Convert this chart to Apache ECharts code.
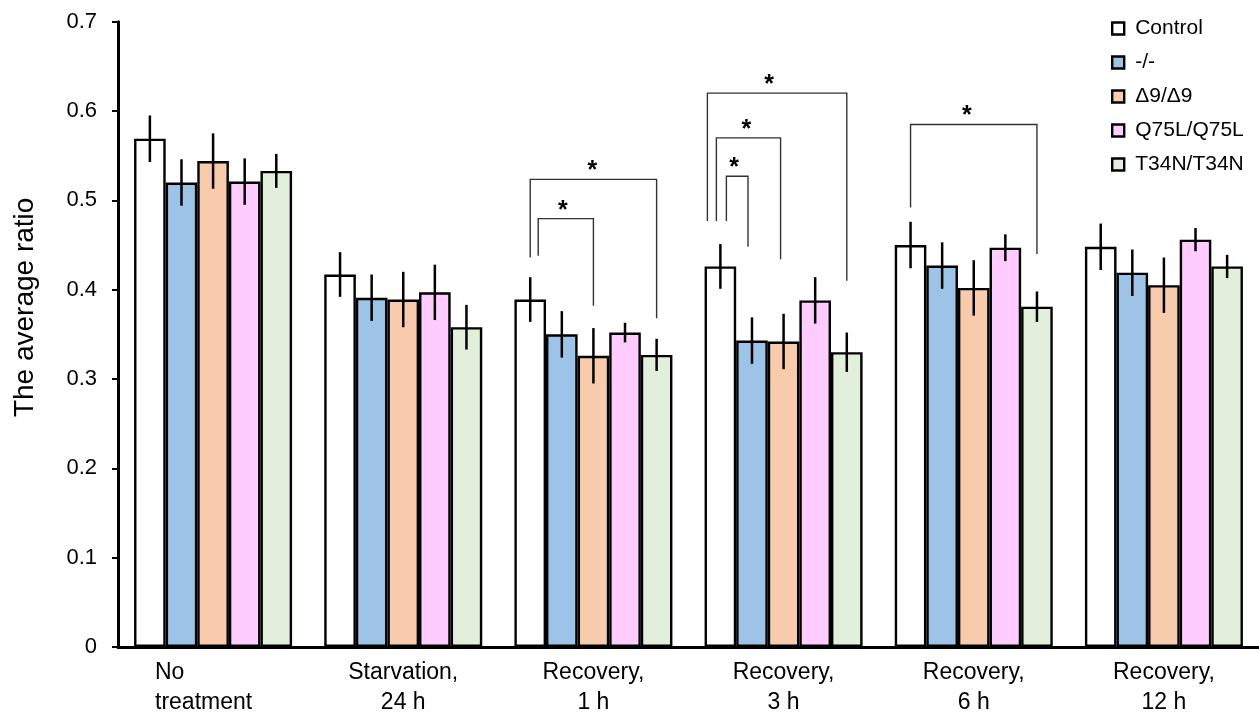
<!DOCTYPE html>
<html>
<head>
<meta charset="utf-8">
<script src="https://cdn.jsdelivr.net/npm/echarts@6/dist/echarts.min.js"></script>
<style>
  html, body { margin: 0; padding: 0; background: #fff; }
  #chart { width: 1259px; height: 718px; }
</style>
</head>
<body>
<div id="chart"></div>
<script>
// Treatment groups along the x axis
const categories = ['No\ntreatment', 'Starvation,\n24 h', 'Recovery,\n1 h', 'Recovery,\n3 h', 'Recovery,\n6 h', 'Recovery,\n12 h'];

// Genotypes (one bar per genotype in each group)
const genotypes = ['Control', '-/-', 'Δ9/Δ9', 'Q75L/Q75L', 'T34N/T34N'];

// Mean ratios
const control = [0.569, 0.417, 0.389, 0.426, 0.450, 0.448];
const knockout = [0.520, 0.391, 0.350, 0.343, 0.427, 0.419];
const delta9 = [0.544, 0.389, 0.326, 0.342, 0.402, 0.405];
const q75l = [0.521, 0.397, 0.352, 0.388, 0.447, 0.456];
const t34n = [0.533, 0.358, 0.327, 0.330, 0.381, 0.426];

// Error (± half-length of each error bar)
const controlErr = [0.026, 0.025, 0.025, 0.025, 0.026, 0.026];
const knockoutErr = [0.026, 0.026, 0.026, 0.026, 0.026, 0.026];
const delta9Err = [0.031, 0.031, 0.031, 0.031, 0.031, 0.031];
const q75lErr = [0.026, 0.031, 0.011, 0.026, 0.015, 0.013];
const t34nErr = [0.019, 0.025, 0.018, 0.022, 0.017, 0.013];

// Y axis ticks
const yTicks = [0, 0.1, 0.2, 0.3, 0.4, 0.5, 0.6, 0.7];

// Significance brackets: [group, fromBar, toBar, bracket height, left leg end, right leg end]
const brackets = [
  [2, 0, 4, 0.5235, 0.436, 0.368],
  [2, 0, 2, 0.4795, 0.438, 0.382],
  [3, 0, 4, 0.620, 0.477, 0.410],
  [3, 0, 2, 0.570, 0.477, 0.434],
  [3, 0, 1, 0.527, 0.477, 0.448],
  [4, 0, 4, 0.585, 0.492, 0.440]
];

// ---- styling ----
const FONT = "'Liberation Sans', Arial, Helvetica, sans-serif";
const BAR_W = 31.6;
const colors = ['#ffffff', '#9dc3e6', '#f8cbad', '#ffccff', '#e2efda'];
// small horizontal nudges for nested bracket legs and stars: [left leg, right leg, star]
const bracketNudge = [[0, 0, -1], [8, 0, -3], [-13, 0, -8], [-4, -3, -2], [6, -4, -3], [0, 0, -7]];

const means = [control, knockout, delta9, q75l, t34n];
const errs = [controlErr, knockoutErr, delta9Err, q75lErr, t34nErr];

const errData = [];
means.forEach((arr, s) => {
  arr.forEach((v, c) => errData.push([c, s, v, errs[s][c]]));
});

const bracketData = brackets.map(b => b.slice());

const chart = echarts.init(document.getElementById('chart'), null, { renderer: 'canvas' });

const barSeries = genotypes.map((name, s) => ({
  name: name,
  type: 'bar',
  data: means[s],
  barWidth: BAR_W,
  barGap: '0%',
  itemStyle: { color: colors[s], borderColor: '#000', borderWidth: 2.4 },
  emphasis: { disabled: true },
  z: 2
}));

const errorSeries = {
  type: 'custom',
  name: 'error',
  data: errData,
  encode: { x: 0, y: 2 },
  z: 5,
  silent: true,
  renderItem: function (params, api) {
    const c = api.value(0), s = api.value(1), m = api.value(2), e = api.value(3);
    const top = api.coord([c, m + e]);
    const bot = api.coord([c, m - e]);
    const x = top[0] + (s - (genotypes.length - 1) / 2) * BAR_W;
    return {
      type: 'line',
      shape: { x1: x, y1: top[1], x2: x, y2: bot[1] },
      style: { stroke: '#000', lineWidth: 2.5 }
    };
  }
};

const bracketSeries = {
  type: 'custom',
  name: 'brackets',
  data: bracketData,
  encode: { x: 0, y: 3 },
  z: 6,
  silent: true,
  renderItem: function (params, api) {
    const c = api.value(0), from = api.value(1), to = api.value(2);
    const topP = api.coord([c, api.value(3)]);
    const yl = api.coord([c, api.value(4)])[1];
    const yr = api.coord([c, api.value(5)])[1];
    const mid = (genotypes.length - 1) / 2;
    const n = bracketNudge[params.dataIndex] || [0, 0, 0];
    const xl = topP[0] + (from - mid) * BAR_W + n[0];
    const xr = topP[0] + (to - mid) * BAR_W + n[1];
    const yt = topP[1];
    return {
      type: 'group',
      children: [
        {
          type: 'polyline',
          shape: { points: [[xl, yl], [xl, yt], [xr, yt], [xr, yr]] },
          style: { stroke: '#333', lineWidth: 1.4, fill: null }
        },
        {
          type: 'text',
          style: {
            text: '*', x: (xl + xr) / 2 + n[2], y: yt - 8,
            align: 'center', verticalAlign: 'middle',
            font: 'bold 25px ' + FONT, fill: '#000'
          }
        }
      ]
    };
  }
};

const option = {
  animation: false,
  backgroundColor: '#fff',
  textStyle: { fontFamily: FONT, color: '#000' },
  grid: { left: 118, right: 0, top: 21.7, bottom: 71, containLabel: false },
  legend: {
    data: genotypes,
    orient: 'vertical',
    left: 1106,
    top: 13,
    icon: 'rect',
    itemWidth: 12,
    itemHeight: 12,
    itemGap: 13,
    selectedMode: false,
    itemStyle: { borderColor: '#000', borderWidth: 2.4 },
    textStyle: { fontSize: 21, lineHeight: 21, color: '#000', fontFamily: FONT, padding: [0, 0, 0, 6] }
  },
  xAxis: {
    type: 'category',
    data: categories,
    axisLine: { lineStyle: { color: '#000', width: 3 } },
    axisTick: { show: false },
    axisLabel: {
      interval: 0,
      margin: 11,
      fontSize: 23,
      lineHeight: 30,
      color: '#000',
      fontFamily: FONT,
      formatter: function (v, i) {
        if (i === 0) {
          const parts = v.split('\n');
          return '{l|' + parts[0] + '}\n{r|' + parts[1] + '}';
        }
        return v;
      },
      rich: {
        l: { align: 'left', fontSize: 23, lineHeight: 30, fontFamily: FONT, color: '#000' },
        r: { align: 'left', fontSize: 23, lineHeight: 30, fontFamily: FONT, color: '#000', padding: [0, 19, 0, 0] }
      }
    },
    splitLine: { show: false }
  },
  yAxis: {
    type: 'value',
    min: yTicks[0],
    max: yTicks[yTicks.length - 1],
    interval: 0.1,
    name: 'The average ratio',
    nameLocation: 'middle',
    nameGap: 79,
    nameTextStyle: { fontSize: 28, color: '#000', fontFamily: FONT, padding: [0, 0, 0, 54] },
    axisLine: { show: true, lineStyle: { color: '#000', width: 3 } },
    axisTick: { show: true, length: 6, lineStyle: { color: '#000', width: 2 } },
    axisLabel: {
      margin: 21,
      fontSize: 22,
      color: '#000',
      fontFamily: FONT,
      formatter: function (v) { return v === 0 ? '0' : v.toFixed(1); }
    },
    splitLine: { show: false }
  },
  series: barSeries.concat([errorSeries, bracketSeries])
};

chart.setOption(option);
</script>
</body>
</html>
